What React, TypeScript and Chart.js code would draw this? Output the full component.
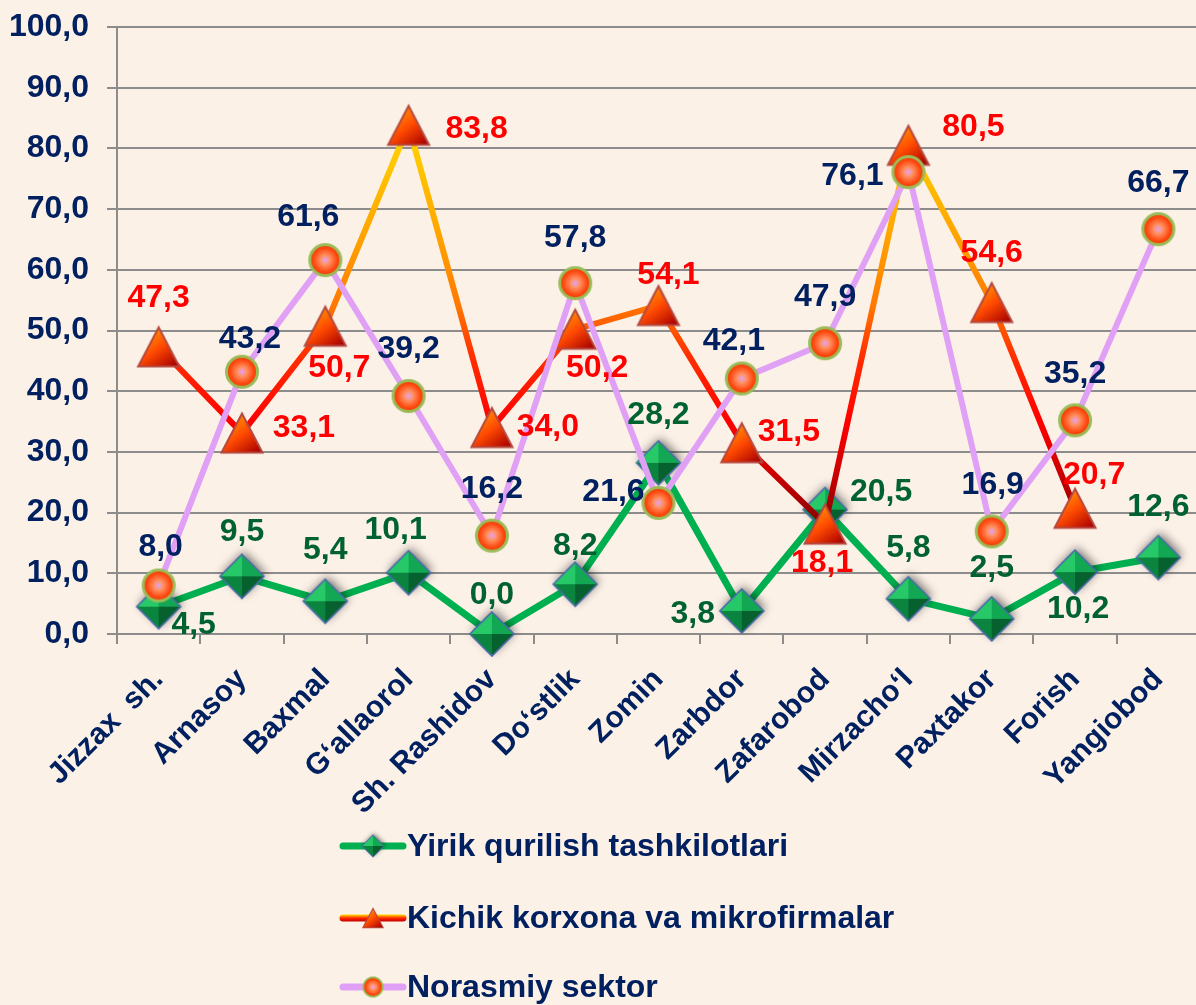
import React, { useEffect, useRef } from 'react';
import { Chart, registerables } from 'chart.js';

Chart.register(...registerables);

// ---------- data ----------
const categories = [
  'Jizzax  sh.', 'Arnasoy', 'Baxmal', 'G‘allaorol', 'Sh. Rashidov', 'Do‘stlik', 'Zomin',
  'Zarbdor', 'Zafarobod', 'Mirzacho‘l', 'Paxtakor', 'Forish', 'Yangiobod',
];
const seriesNames = [
  'Yirik qurilish tashkilotlari',
  'Kichik korxona va mikrofirmalar',
  'Norasmiy sektor',
];
const yirik = [4.5, 9.5, 5.4, 10.1, 0.0, 8.2, 28.2, 3.8, 20.5, 5.8, 2.5, 10.2, 12.6];
const kichik = [47.3, 33.1, 50.7, 83.8, 34.0, 50.2, 54.1, 31.5, 18.1, 80.5, 54.6, 20.7, null];
const norasmiy = [8.0, 43.2, 61.6, 39.2, 16.2, 57.8, 21.6, 42.1, 47.9, 76.1, 16.9, 35.2, 66.7];
const yMin = 0;
const yMax = 100;
const yStep = 10;

// ---------- label placement (style, not data) ----------
const yirikLabelOffsets = [
  [35, 18], [0, -44], [0, -51], [-13, -43], [0, -39], [0, -38], [0, -48],
  [-49, 3], [56, -17], [0, -51], [0, -51], [3, 37], [0, -50],
];
const kichikLabelOffsets = [
  [0, -49], [62, -5], [14, 42], [68, 4], [56, 0], [22, 39], [10, -30],
  [47, -11], [-3, 39], [65, -18], [0, -49], [19, -33], [0, 0],
];
const norasmiyLabelOffsets = [
  [2, -38], [8, -33], [-17, -43], [0, -47], [0, -46], [0, -45], [-45, -11],
  [-8, -37], [0, -46], [-56, 4], [1, -46], [0, -46], [0, -46],
];
const labelOffsets = [yirikLabelOffsets, kichikLabelOffsets, norasmiyLabelOffsets];
const labelColors = ['#006230', '#FF0000', '#002060'];

const FONT_FAMILY = '"Liberation Sans", Arial, Helvetica, sans-serif';
const FONT_SIZE = 32;
const X_FONT_SIZE = 30;
const NAVY = '#002060';
const GRID = '#8C8C8C';
const BG = '#FCF1E7';

const fmt = (v: number) => v.toFixed(1).replace('.', ',');

// ---------- marker images ----------
function makeDiamond(r = 22): HTMLCanvasElement {
  const s = 66;
  const c = document.createElement('canvas');
  c.width = s; c.height = s;
  const g = c.getContext('2d')!;
  const cx = s / 2, cy = s / 2;
  const pts = [[cx, cy - r], [cx + r, cy], [cx, cy + r], [cx - r, cy]];
  const path = () => {
    g.beginPath();
    g.moveTo(pts[0][0], pts[0][1]);
    for (let i = 1; i < 4; i++) g.lineTo(pts[i][0], pts[i][1]);
    g.closePath();
  };
  g.save();
  g.shadowColor = 'rgba(0,0,0,0.5)';
  g.shadowBlur = 10;
  g.shadowOffsetX = 2;
  g.shadowOffsetY = -3;
  path();
  g.fillStyle = '#0B7A3B';
  g.fill();
  g.restore();
  const faces: [number, number, string][] = [
    [0, 1, '#12A853'], [1, 2, '#06612F'], [2, 3, '#0B8440'], [3, 0, '#27C868'],
  ];
  faces.forEach(([a, b, col]) => {
    g.beginPath();
    g.moveTo(pts[a][0], pts[a][1]);
    g.lineTo(pts[b][0], pts[b][1]);
    g.lineTo(cx, cy);
    g.closePath();
    g.fillStyle = col;
    g.fill();
  });
  path();
  g.strokeStyle = '#4A6CA8';
  g.lineWidth = 1.6;
  g.stroke();
  return c;
}

function makeCircle(r = 15.5): HTMLCanvasElement {
  const s = 40;
  const c = document.createElement('canvas');
  c.width = s; c.height = s;
  const g = c.getContext('2d')!;
  const cx = s / 2, cy = s / 2;
  const grad = g.createRadialGradient(cx, cy, 0, cx, cy, r);
  grad.addColorStop(0, '#E4A2F8');
  grad.addColorStop(0.3, '#FF9262');
  grad.addColorStop(0.75, '#FF4A12');
  grad.addColorStop(1, '#F03800');
  g.beginPath();
  g.arc(cx, cy, r, 0, Math.PI * 2);
  g.fillStyle = grad;
  g.fill();
  g.lineWidth = 3;
  g.strokeStyle = '#9BBB59';
  g.stroke();
  return c;
}

function makeTriangle(): HTMLCanvasElement {
  const s = 48;
  const c = document.createElement('canvas');
  c.width = s; c.height = s;
  const g = c.getContext('2d')!;
  const cx = s / 2, cy = s / 2;
  const hw = 20.5, top = cy - 19.5, bot = cy + 19.5;
  const grad = g.createLinearGradient(cx - 12, top, cx + 16, bot);
  grad.addColorStop(0, '#FFA200');
  grad.addColorStop(0.5, '#FF4A00');
  grad.addColorStop(1, '#A80000');
  g.beginPath();
  g.moveTo(cx, top);
  g.lineTo(cx + hw, bot);
  g.lineTo(cx - hw, bot);
  g.closePath();
  g.fillStyle = grad;
  g.fill();
  g.lineWidth = 2;
  g.lineJoin = 'miter';
  g.strokeStyle = '#B5493F';
  g.stroke();
  return c;
}

// value -> colour stops for the gradient line
const kichikGradientStops: [number, string][] = [
  [0, '#600000'], [18, '#8A0000'], [27, '#D00000'], [35, '#FF0000'], [46, '#FF3000'],
  [54, '#FF7800'], [65, '#FFA200'], [78, '#FFC800'], [86, '#FFD800'], [100, '#FFE000'],
];

export default function App() {
  const ref = useRef<HTMLCanvasElement>(null);

  useEffect(() => {
    const canvas = ref.current!;
    const diamond = makeDiamond();
    const circle = makeCircle();
    const triangle = makeTriangle();
    const markers = [diamond, triangle, circle];

    const kichikColor = (ctx: any) => {
      const chart = ctx.chart;
      if (!chart.chartArea || !chart.scales.y) return '#FF4000';
      const y = chart.scales.y;
      const y0 = y.getPixelForValue(yMin);
      const y1 = y.getPixelForValue(yMax);
      const grad = chart.ctx.createLinearGradient(0, y0, 0, y1);
      kichikGradientStops.forEach(([v, col]) => grad.addColorStop((v - yMin) / (yMax - yMin), col));
      return grad;
    };

    const valueLabels = {
      id: 'valueLabels',
      afterDatasetsDraw(chart: any) {
        const ctx = chart.ctx;
        ctx.save();
        ctx.font = `bold ${FONT_SIZE}px ${FONT_FAMILY}`;
        ctx.textAlign = 'center';
        ctx.textBaseline = 'middle';
        chart.data.datasets.forEach((ds: any, i: number) => {
          const meta = chart.getDatasetMeta(i);
          meta.data.forEach((pt: any, j: number) => {
            const v = ds.data[j];
            if (v === null || v === undefined) return;
            const off = labelOffsets[i][j];
            ctx.fillStyle = labelColors[i];
            ctx.fillText(fmt(v), pt.x + off[0], pt.y + off[1]);
          });
        });
        ctx.restore();
      },
    };

    const customLegend = {
      id: 'customLegend',
      afterDraw(chart: any) {
        const ctx = chart.ctx;
        const rows = [846, 918, 987];
        const x0 = 343, x1 = 403, mx = 373, tx = 407;
        ctx.save();
        rows.forEach((y, i) => {
          ctx.lineCap = 'round';
          ctx.lineWidth = 7;
          if (i === 0) ctx.strokeStyle = '#00B050';
          else if (i === 1) {
            const g = ctx.createLinearGradient(0, y - 3.5, 0, y + 3.5);
            g.addColorStop(0, '#FFE000');
            g.addColorStop(0.55, '#FF2000');
            g.addColorStop(1, '#C00000');
            ctx.strokeStyle = g;
          } else ctx.strokeStyle = '#DFA0F5';
          ctx.beginPath();
          ctx.moveTo(x0, y);
          ctx.lineTo(x1, y);
          ctx.stroke();
          const img = markers[i];
          const sc = i === 2 ? 0.62 : 0.5;
          const w = img.width * sc, h = img.height * sc;
          ctx.drawImage(img, mx - w / 2, y - h / 2, w, h);
          ctx.fillStyle = NAVY;
          ctx.font = `bold ${FONT_SIZE}px ${FONT_FAMILY}`;
          ctx.textAlign = 'left';
          ctx.textBaseline = 'middle';
          ctx.fillText(seriesNames[i], tx, y + 1);
        });
        ctx.restore();
      },
    };

    const chart = new Chart(canvas, {
      type: 'line',
      data: {
        labels: categories,
        datasets: [
          {
            label: seriesNames[0],
            data: yirik,
            borderColor: '#00B050',
            borderWidth: 7,
            pointStyle: diamond as any,
            pointRadius: 21,
            tension: 0,
            clip: false as any,
            order: 3,
          },
          {
            label: seriesNames[1],
            data: kichik as any,
            borderColor: kichikColor as any,
            borderWidth: 6,
            pointStyle: triangle as any,
            pointRadius: 20,
            tension: 0,
            clip: false as any,
            order: 2,
          },
          {
            label: seriesNames[2],
            data: norasmiy,
            borderColor: '#DFA0F5',
            borderWidth: 6,
            pointStyle: circle as any,
            pointRadius: 17,
            tension: 0,
            clip: false as any,
            order: 1,
          },
        ],
      },
      options: {
        responsive: false,
        animation: false,
        devicePixelRatio: 1,
        layout: { autoPadding: false, padding: { top: 27, right: 0, bottom: 0, left: 0 } },
        plugins: {
          legend: { display: false },
          tooltip: { enabled: false },
        },
        scales: {
          x: {
            type: 'category',
            offset: true,
            grid: {
              display: true,
              drawOnChartArea: false,
              drawTicks: true,
              tickLength: 10,
              color: GRID,
              lineWidth: 2,
              offset: true,
            },
            border: { display: true, color: GRID, width: 2 },
            ticks: {
              autoSkip: false,
              minRotation: 45,
              maxRotation: 45,
              padding: 18,
              color: NAVY,
              font: { family: FONT_FAMILY, size: X_FONT_SIZE, weight: 'bold' },
            },
            afterFit(scale: any) {
              scale.height = 1005 - 634;
              scale.paddingLeft = 0;
              scale.paddingRight = 0;
            },
          },
          y: {
            min: yMin,
            max: yMax,
            ticks: {
              stepSize: yStep,
              padding: 18,
              color: NAVY,
              font: { family: FONT_FAMILY, size: FONT_SIZE, weight: 'bold' },
              callback: (v: any) => fmt(Number(v)),
            },
            grid: {
              color: GRID,
              lineWidth: 2,
              tickLength: 10,
              drawTicks: true,
            },
            border: { display: true, color: GRID, width: 2 },
            afterFit(scale: any) {
              scale.width = 117;
              scale.paddingTop = 0;
              scale.paddingBottom = 0;
            },
          },
        },
      },
      plugins: [valueLabels, customLegend],
    } as any);

    return () => chart.destroy();
  }, []);

  return (
    <div
      style={{
        position: 'absolute',
        left: 0,
        top: 0,
        width: 1196,
        height: 1005,
        overflow: 'hidden',
        background: BG,
      }}
    >
      <canvas ref={ref} width={1200} height={1005} style={{ display: 'block' }} />
    </div>
  );
}
